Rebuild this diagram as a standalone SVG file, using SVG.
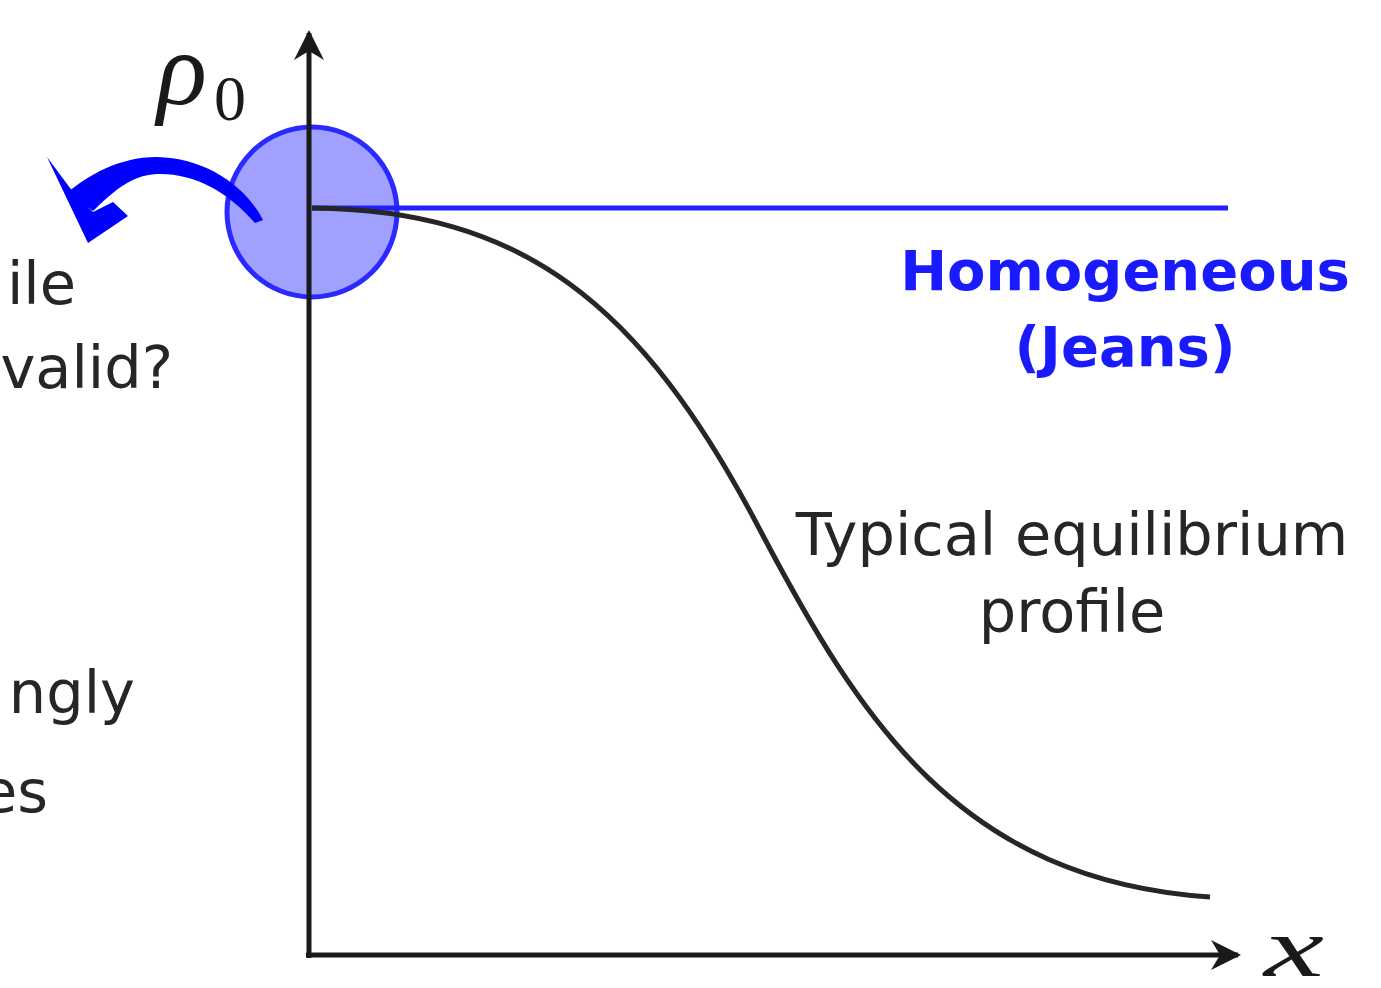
<svg xmlns="http://www.w3.org/2000/svg" width="1381" height="988" viewBox="0 0 1381 988">
<style>
.lbl{font-family:"DejaVu Sans","Liberation Sans",sans-serif;font-size:59px;fill:#262626}
.blue{font-family:"DejaVu Sans","Liberation Sans",sans-serif;font-size:56px;font-weight:bold;fill:#1a1aff}
.math{font-family:"Liberation Serif","DejaVu Serif",serif;fill:#1a1a1a}
.it{font-style:italic}
.axis{stroke:#1a1a1a;stroke-width:5;fill:none}
</style>
<defs>
<marker id="ah" viewBox="0 0 10 10" refX="9" refY="5" markerWidth="7" markerHeight="6" markerUnits="strokeWidth" orient="auto">
<path d="M0,0 L10,5 L0,10 L3,5 Z" fill="#1a1a1a"/>
</marker>
</defs>
<rect width="1381" height="988" fill="#ffffff"/>
<g id="circle">
<circle cx="312" cy="212" r="85" fill="#a0a0ff" stroke="#2a2aff" stroke-width="5"/>
</g>
<g id="connectors">
<line class="axis" x1="309" y1="958" x2="309" y2="33" marker-end="url(#ah)"/>
<line class="axis" x1="306" y1="955" x2="1238" y2="955" marker-end="url(#ah)"/>
<line x1="312" y1="208" x2="1228" y2="208" stroke="#2020ff" stroke-width="5"/>
<path d="M312,208 C520,210 640,300 760,530 C860,720 960,880 1210,897" fill="none" stroke="#262626" stroke-width="5"/>
<path d="M263,220 C245,185 205,158 157,157 C118,157 88,176 68,192 L93,211 C112,193 130,175 157,174 C195,173 228,192 255,223 Z" fill="#0000ff"/>
<path d="M47,157 L88,243 L128,216 L113,202 L93,212 L70,188 Z" fill="#0000ff"/>
</g>
<g id="labels">
<text class="math it" x="157" y="104" font-size="104">ρ</text>
<text class="math" x="214" y="120" font-size="64">0</text>
<text class="math it" x="1264" y="976" font-size="84" textLength="60" lengthAdjust="spacingAndGlyphs">x</text>
<text class="blue" x="1125" y="290" text-anchor="middle">Homogeneous</text>
<text class="blue" x="1125" y="366" text-anchor="middle">(Jeans)</text>
<text class="lbl" x="1072" y="555" text-anchor="middle">Typical equilibrium</text>
<text class="lbl" x="1072" y="632" text-anchor="middle">profile</text>
<text class="lbl" x="76" y="304" text-anchor="end">ile</text>
<text class="lbl" x="173" y="388" text-anchor="end">valid?</text>
<text class="lbl" x="135" y="713" text-anchor="end">ngly</text>
<text class="lbl" x="48" y="812" text-anchor="end">es</text>
</g>
</svg>
